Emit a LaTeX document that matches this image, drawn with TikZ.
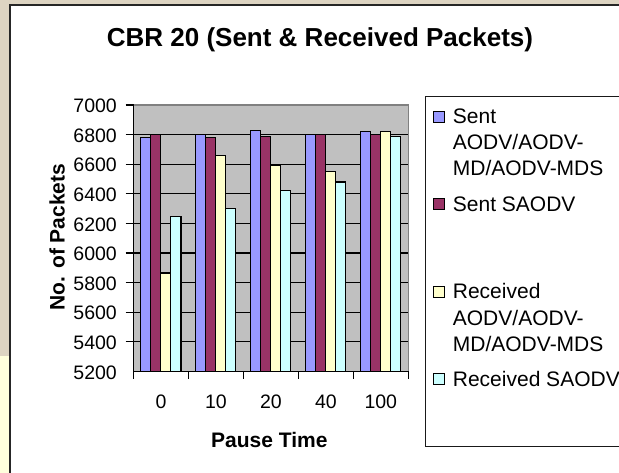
\documentclass[tikz,border=0pt]{standalone}
\usepackage{fontspec}
\setmainfont{Liberation Sans}
\definecolor{parch}{HTML}{DDD4C2}
\definecolor{paleyel}{HTML}{FFFFDC}
\definecolor{plotgray}{HTML}{C0C0C0}
\definecolor{edgegray}{HTML}{808080}
\definecolor{sentA}{HTML}{9999FF}
\definecolor{sentS}{HTML}{993366}
\definecolor{recvA}{HTML}{FFFFCC}
\definecolor{recvS}{HTML}{CCFFFF}
\begin{document}
\begin{tikzpicture}[x=1pt,y=-1pt,
  bar/.style={draw=black, line width=1.2pt},
  gridline/.style={draw=black, line width=1.3pt},
  ticklabel/.style={font=\fontsize{19.5}{22}\selectfont, inner sep=0pt},
  legtext/.style={font=\fontsize{21}{25}\selectfont, inner sep=0pt, anchor=base west},
  axtitle/.style={font=\bfseries\fontsize{21}{25}\selectfont, inner sep=0pt},
  key/.style={draw=black, line width=0.9pt, minimum size=11pt, inner sep=0pt}
]
\useasboundingbox (0,0) rectangle (619,473);
% page background and chart frame
\fill[parch] (0,0) rectangle (619,473);
\fill[paleyel] (0,356) rectangle (10,473);
\draw[fill=white, line width=1.3pt, draw=black!85] (10,5) rectangle (640,495);

% title
\node[font=\bfseries\fontsize{26}{30}\selectfont, anchor=base, inner sep=0pt]
  (title) at (320,47) {CBR 20 (Sent \& Received Packets)};

% plot area with gridlines and tick marks
\fill[plotgray] (133.5,105) rectangle (408.3,371.4);
\foreach \k in {1,...,8}
  \draw[gridline] (125.5,371.4-\k*29.6) -- (408.3,371.4-\k*29.6);
\draw[gridline] (125.5,105) -- (133.5,105);
\draw[edgegray, line width=1.3pt] (133.5,105) -- (408.3,105) -- (408.3,371.4);

% y tick labels
\foreach \k in {0,...,9} {
  \pgfmathtruncatemacro\val{5200+200*\k}
  \node[ticklabel, anchor=east] (yl\k) at (117,372.4-\k*29.6) {\val};
}

% bars: sent AODV, sent SAODV, received AODV, received SAODV
\foreach \c/\a/\b/\d/\e [count=\i from 0] in
  {0/6780/6800/5865/6245, 10/6800/6780/6660/6300, 20/6830/6785/6590/6425,
   40/6800/6800/6550/6480, 100/6820/6800/6820/6785} {
  \pgfmathsetmacro\xs{133.5+\i*54.96+7}
  \foreach \v/\col [count=\j from 0] in {\a/sentA,\b/sentS,\d/recvA,\e/recvS} {
    \pgfmathsetmacro\xl{\xs+\j*10.1}
    \pgfmathsetmacro\yt{371.4-(\v-5200)*0.148}
    \draw[bar, fill=\col] (\xl,371.4) rectangle (\xl+10.1,\yt);
  }
  \node[ticklabel] (xl\i) at (133.5+\i*54.96+27.48,401.7) {\c};
}

% axes
\draw[gridline] (133.5,105) -- (133.5,371.4);
\draw[gridline] (133.5,371.4) -- (408.3,371.4);
\foreach \i in {0,...,5}
  \draw[gridline] (133.5+\i*54.96,371.4) -- (133.5+\i*54.96,378.5);

% axis titles
\node[axtitle, rotate=90] (ytitle) at (57,237) {No. of Packets};
\node[axtitle] (xtitle) at (269.3,440) {Pause Time};

% legend
\draw[line width=1.3pt, draw=black!90] (425.7,96.7) rectangle (640,446.7);
\node[key, fill=sentA] (k1) at (439.3,116.5) {};
\node[legtext] (t1a) at (452.7,124) {Sent};
\node[legtext] (t1b) at (452.7,150) {AODV/AODV-};
\node[legtext] (t1c) at (452.7,176) {MD/AODV-MDS};
\node[key, fill=sentS] (k2) at (439.3,204) {};
\node[legtext] (t2) at (452.7,211.5) {Sent SAODV};
\node[key, fill=recvA] (k3) at (439.3,291.5) {};
\node[legtext] (t3a) at (452.7,299) {Received};
\node[legtext] (t3b) at (452.7,325.5) {AODV/AODV-};
\node[legtext] (t3c) at (452.7,352) {MD/AODV-MDS};
\node[key, fill=recvS] (k4) at (439.3,379) {};
\node[legtext] (t4) at (452.7,386.5) {Received SAODV};
\end{tikzpicture}
\end{document}
